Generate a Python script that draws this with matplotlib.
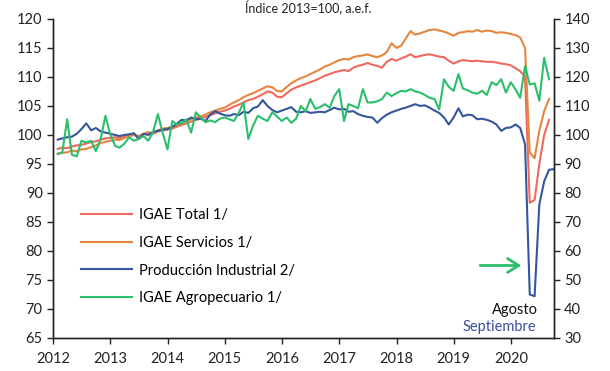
import numpy as np
import pandas as pd
import matplotlib
matplotlib.use("Agg")
import matplotlib.pyplot as plt
import matplotlib.dates as mdates

plt.rcParams['font.family'] = ['Lato', 'DejaVu Sans']

# IGAE series run Jan 2012 - Aug 2020, industrial production to Sep 2020
igae_total = [
    97.6, 97.8, 97.7, 98.0, 98.2, 98.3, 98.5, 98.8, 98.9, 99.2, 99.4, 99.5,
    99.6, 99.4, 99.7, 99.9, 100.0, 99.8, 100.1, 100.3, 100.2, 100.6, 100.8, 100.9,
    101.1, 101.4, 101.7, 102.0, 102.3, 102.6, 102.8, 103.1, 103.4, 103.7, 104.0, 104.2,
    104.5, 104.9, 105.2, 105.6, 106.0, 106.2, 106.6, 107.0, 107.5, 107.3, 106.6, 106.5,
    107.2, 107.8, 108.2, 108.5, 108.8, 109.1, 109.4, 109.8, 110.2, 110.5, 110.8, 111.0,
    111.2, 111.0, 111.6, 111.9, 112.1, 112.4, 112.1, 111.9, 111.6, 112.6, 113.1, 112.8,
    113.2, 113.5, 113.9, 113.4, 113.6, 113.8, 113.9, 113.7, 113.5, 113.4, 112.8, 112.3,
    112.7, 112.9, 112.8, 112.7, 112.8, 112.7, 112.6, 112.6, 112.5, 112.3, 112.2, 112.0,
    111.5, 111.0, 110.0, 88.3, 88.8, 95.0, 100.0, 102.6,
]
igae_servicios = [
    96.8, 96.9, 97.0, 97.3, 97.2, 97.5, 97.6, 97.9, 98.2, 98.6, 98.8, 99.0,
    99.2, 99.1, 99.5, 99.8, 100.0, 99.8, 100.2, 100.5, 100.3, 100.8, 101.1, 101.2,
    101.4, 101.7, 102.0, 102.4, 102.7, 103.0, 103.2, 103.5, 103.9, 104.2, 104.5, 104.7,
    105.2, 105.6, 106.0, 106.5, 106.9, 107.2, 107.6, 108.0, 108.4, 108.2, 107.6, 107.5,
    108.3, 108.9, 109.4, 109.8, 110.1, 110.5, 110.9, 111.3, 111.8, 112.1, 112.5, 112.9,
    113.1, 113.0, 113.4, 113.6, 113.7, 113.9, 113.6, 113.4, 113.7, 114.3, 115.8, 115.0,
    115.4, 116.6, 117.9, 117.3, 117.5, 117.8, 118.1, 118.2, 118.0, 117.8, 117.5, 117.1,
    117.6, 117.7, 117.9, 117.8, 118.1, 117.8, 118.0, 117.9, 117.6, 117.7, 117.6, 117.4,
    117.2, 116.8, 115.0, 97.0, 96.0, 100.7, 104.1, 106.2,
]
prod_industrial = [
    99.2, 99.4, 99.6, 99.7, 100.2, 101.0, 102.0, 100.8, 101.2, 100.6, 100.4, 100.2,
    100.0, 99.8, 100.0, 100.1, 100.3, 99.3, 100.2, 100.0, 100.5, 100.7, 100.9, 101.0,
    101.4, 101.9, 102.6, 102.5, 103.0, 102.7, 102.8, 102.4, 103.5, 104.1, 103.7, 103.4,
    103.3, 103.6, 103.4, 104.0, 103.8, 104.6, 104.9, 106.0, 105.0, 104.3, 103.9, 104.2,
    104.5, 104.8, 104.0, 103.9, 104.1, 103.8, 103.9, 104.0, 103.9, 104.3, 104.7, 104.4,
    104.5, 104.0, 104.1, 103.6, 103.3, 103.1, 103.0, 102.1, 102.9, 103.5, 103.9, 104.2,
    104.5, 104.7, 105.0, 105.3, 105.0, 105.1, 104.7, 104.2, 103.8, 103.0, 101.8, 103.0,
    104.6, 103.2, 103.5, 103.4, 102.7, 102.8, 102.6, 102.3, 101.8, 100.7, 101.2, 101.3,
    101.8, 101.2, 98.4, 72.5, 72.2, 88.0, 92.0, 94.0, 94.1,
]
# agropecuario is read against the right-hand scale
igae_agro = [
    93.4, 94.0, 105.4, 93.2, 92.6, 98.0, 97.4, 98.0, 94.4, 98.6, 106.6, 100.2,
    96.2, 95.6, 97.0, 99.2, 98.0, 98.6, 99.6, 98.0, 101.0, 107.2, 100.8, 95.0,
    104.8, 103.6, 104.0, 105.4, 100.8, 107.8, 106.0, 104.4, 105.0, 104.4, 105.6, 106.0,
    105.4, 104.8, 107.6, 111.2, 98.6, 103.2, 106.6, 105.6, 104.8, 107.8, 106.4, 104.8,
    106.0, 104.2, 105.6, 110.0, 108.2, 112.4, 109.0, 109.6, 110.6, 109.4, 113.4, 115.8,
    104.8, 110.6, 110.0, 109.2, 115.8, 111.2, 111.2, 111.6, 112.4, 114.6, 113.4, 114.4,
    115.2, 115.0, 115.8, 115.0, 114.6, 113.8, 112.8, 112.4, 108.8, 119.2, 116.6, 115.2,
    121.0, 116.0, 115.4, 114.6, 114.2, 115.2, 113.8, 118.2, 117.2, 119.2, 114.6, 118.2,
    115.6, 112.8, 123.8, 117.4, 117.8, 111.8, 126.6, 119.2,
]

labels = ["IGAE Total 1/", "IGAE Servicios 1/", "Producción Industrial 2/", "IGAE Agropecuario 1/"]
colors = ["#F0695E", "#E6853F", "#35569C", "#2BBE6B"]

dates_igae = pd.date_range("2012-01-31", periods=len(igae_total), freq="ME")
dates_ind = pd.date_range("2012-01-31", periods=len(prod_industrial), freq="ME")

fig = plt.figure(figsize=(6.1, 3.71), dpi=100)
ax = fig.add_axes([0.087, 0.089, 0.821, 0.860])
ax2 = ax.twinx()

l1, = ax.plot(dates_igae, igae_total, color=colors[0], lw=1.5, label=labels[0])
l2, = ax.plot(dates_igae, igae_servicios, color=colors[1], lw=1.5, label=labels[1])
l3, = ax.plot(dates_ind, prod_industrial, color=colors[2], lw=1.5, label=labels[2])
l4, = ax2.plot(dates_igae, igae_agro, color=colors[3], lw=1.5, label=labels[3])

ax.set_ylim(65, 120)
ax.set_yticks(np.arange(65, 121, 5))
ax2.set_ylim(30, 140)
ax2.set_yticks(np.arange(30, 141, 10))
ax.set_xlim(pd.Timestamp("2012-01-01"), pd.Timestamp("2020-10-01"))
ax.xaxis.set_major_locator(mdates.YearLocator())
ax.xaxis.set_major_formatter(mdates.DateFormatter("%Y"))

for a in (ax, ax2):
    a.spines["top"].set_visible(False)
    for s in a.spines.values():
        s.set_color("#222222")
        s.set_linewidth(1.0)
    a.tick_params(direction="out", length=4, width=1, colors="#222222", labelsize=10.5)
ax.tick_params(axis="x", pad=6)

leg = ax2.legend(handles=[l1, l2, l3, l4], loc="center left", bbox_to_anchor=(0.055, 0.255),
                 frameon=False, fontsize=10.5, handlelength=3.5, handletextpad=0.5,
                 labelspacing=0.95, borderpad=0, borderaxespad=0)

ax2.annotate("", xy=(pd.Timestamp("2020-03-25"), 55), xytext=(pd.Timestamp("2019-06-01"), 55),
             arrowprops=dict(arrowstyle="->,head_length=0.8,head_width=0.5", color=colors[3], lw=2))
ax2.text(pd.Timestamp("2020-01-25"), 39.5, "Agosto", ha="center", va="center", fontsize=10.5, color="#111111")
ax2.text(pd.Timestamp("2019-10-20"), 33.8, "Septiembre", ha="center", va="center", fontsize=10.5, color="#3B4F9C")

fig.text(0.505, 0.998, "Índice 2013=100, a.e.f.", ha="center", va="top", fontsize=9, color="#222222")

fig.savefig("out.png", dpi=100)
